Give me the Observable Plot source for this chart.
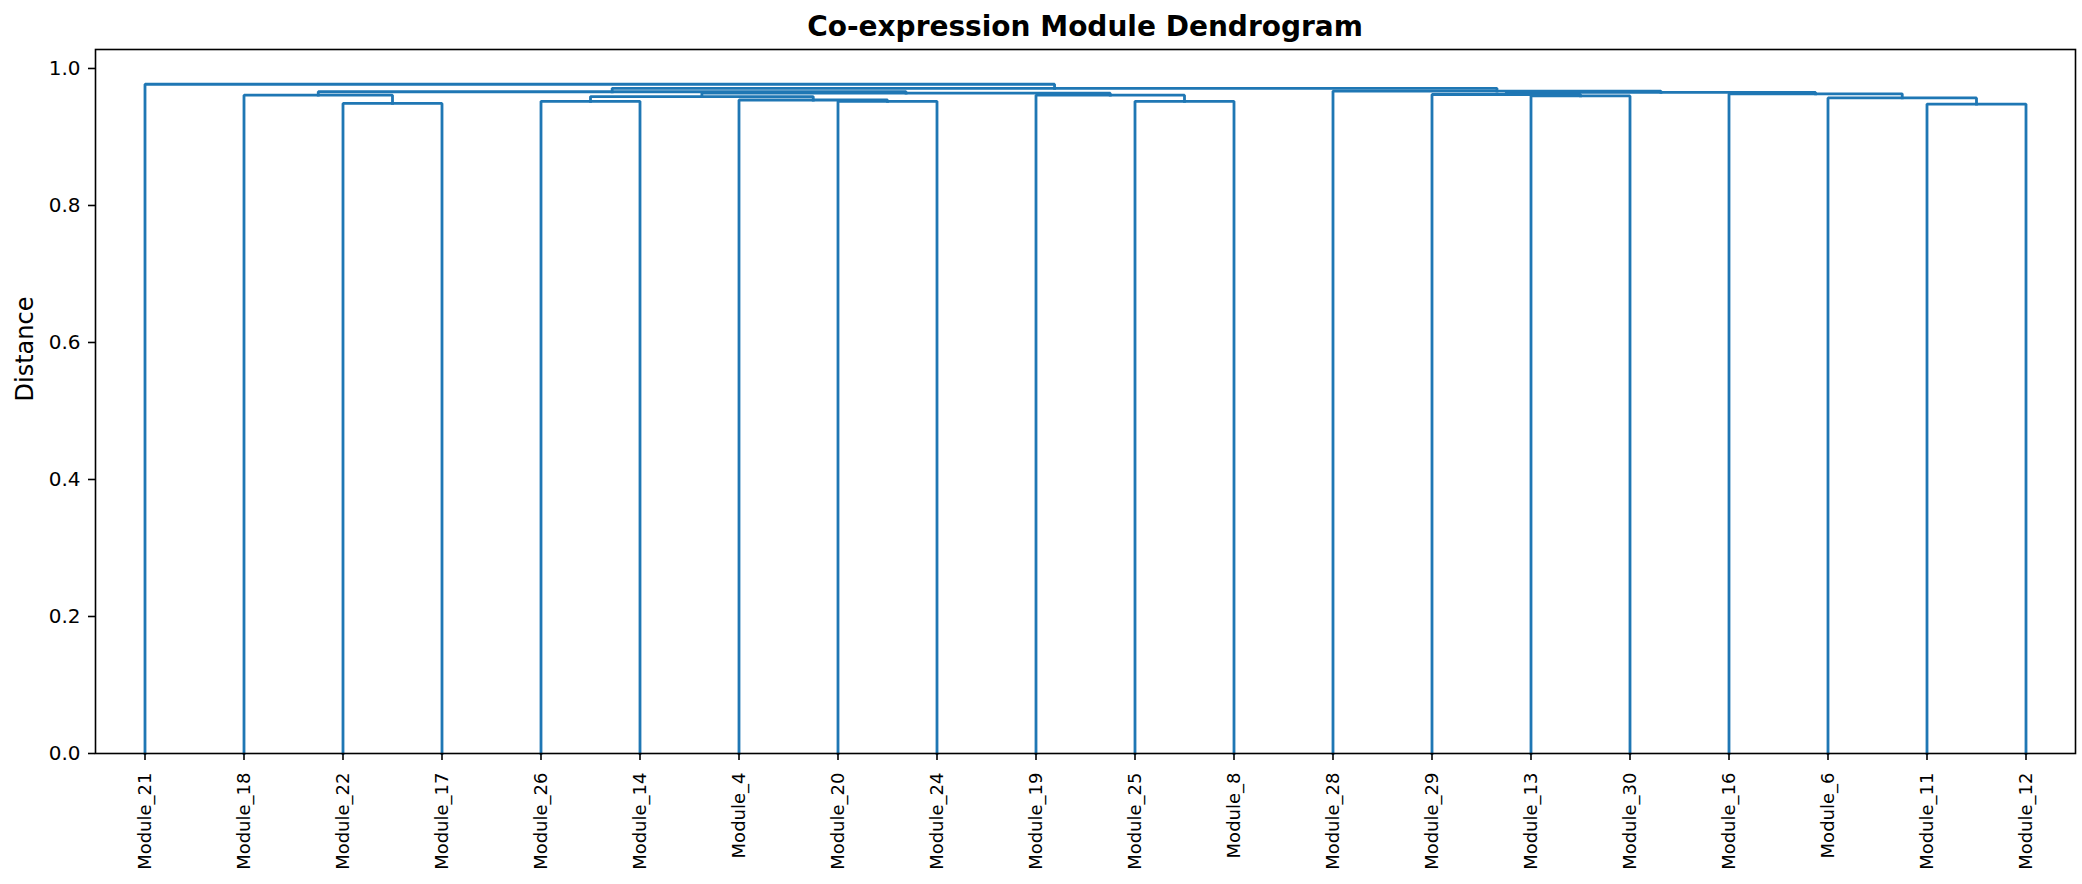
<!DOCTYPE html>
<html>
<head>
<meta charset="utf-8">
<script src="https://cdn.jsdelivr.net/npm/d3@7"></script>
<script src="https://cdn.jsdelivr.net/npm/@observablehq/plot@0.6"></script>
<style>
  html, body { margin: 0; padding: 0; background: white; }
  #wrap { position: relative; width: 2082px; height: 884px; }
  #title { position: absolute; left: 95px; top: 0; width: 1980px; height: 54px; line-height: 54px;
           text-align: center; font-family: "DejaVu Sans", sans-serif; font-weight: bold; font-size: 28px; color: #000; z-index: 2; }
  #chart { position: absolute; left: 0; top: 0; }
</style>
</head>
<body>
<div id="wrap">
  <div id="title">Co-expression Module Dendrogram</div>
  <div id="chart"></div>
</div>
<script>
// Leaves in dendrogram order
const leafLabels = ["Module_21","Module_18","Module_22","Module_17","Module_26","Module_14","Module_4","Module_20","Module_24","Module_19","Module_25","Module_8","Module_28","Module_29","Module_13","Module_30","Module_16","Module_6","Module_11","Module_12"];
// Linkage (scipy style): node ids 0..19 are leaves, 20+k is the k-th merge
const mergeLeft   = [18, 2, 4, 7, 10, 6, 17, 22, 14, 1, 9, 13, 16, 27, 31, 29, 12, 35, 0];
const mergeRight  = [19, 3, 5, 8, 11, 23, 20, 25, 15, 21, 24, 28, 26, 30, 32, 33, 34, 36, 37];
const mergeHeight = [0.948, 0.949, 0.952, 0.952, 0.952, 0.954, 0.957, 0.959, 0.960, 0.961, 0.961, 0.962, 0.963, 0.964, 0.965, 0.966, 0.967, 0.971, 0.977];
const yTicks = [0, 0.2, 0.4, 0.6, 0.8, 1.0];

// Build dendrogram geometry from the linkage
const leafX = leafLabels.map((_, i) => 5 + 10 * i);
const nodeX = leafX.slice();
const nodeY = leafLabels.map(() => 0);
const segs = [];
mergeHeight.forEach((h, k) => {
  const a = mergeLeft[k], b = mergeRight[k];
  segs.push({id: k, x: nodeX[a], y: nodeY[a]});
  segs.push({id: k, x: nodeX[a], y: h});
  segs.push({id: k, x: nodeX[b], y: h});
  segs.push({id: k, x: nodeX[b], y: nodeY[b]});
  nodeX.push((nodeX[a] + nodeX[b]) / 2);
  nodeY.push(h);
});
const labelByX = new Map(leafX.map((x, i) => [x, leafLabels[i]]));

const chart = Plot.plot({
  width: 2082,
  height: 884,
  marginLeft: 95,
  marginRight: 7,
  marginTop: 49,
  marginBottom: 131,
  x: {domain: [0, 200]},
  y: {domain: [0, 1.0277]},
  style: {fontFamily: "DejaVu Sans", color: "black", background: "white", overflow: "visible"},
  marks: [
    Plot.line(segs, {x: "x", y: "y", z: "id", stroke: "#1f77b4", strokeWidth: 2.8, strokeLinejoin: "miter", strokeLinecap: "square"}),
    Plot.frame({stroke: "#000", strokeWidth: 1.6}),
    Plot.axisY({ticks: yTicks, tickFormat: d3.format(".1f"), tickSize: 7, tickPadding: 8, fontSize: 20, label: null, strokeWidth: 1.6}),
    Plot.axisX({ticks: leafX, tickFormat: d => labelByX.get(d), tickRotate: -90, tickSize: 7, tickPadding: 12, fontSize: 18, label: null, strokeWidth: 1.6}),
    Plot.text(["Distance"], {frameAnchor: "left", dx: -70, rotate: -90, fontSize: 24})
  ]
});
document.getElementById("chart").appendChild(chart);
</script>
</body>
</html>
